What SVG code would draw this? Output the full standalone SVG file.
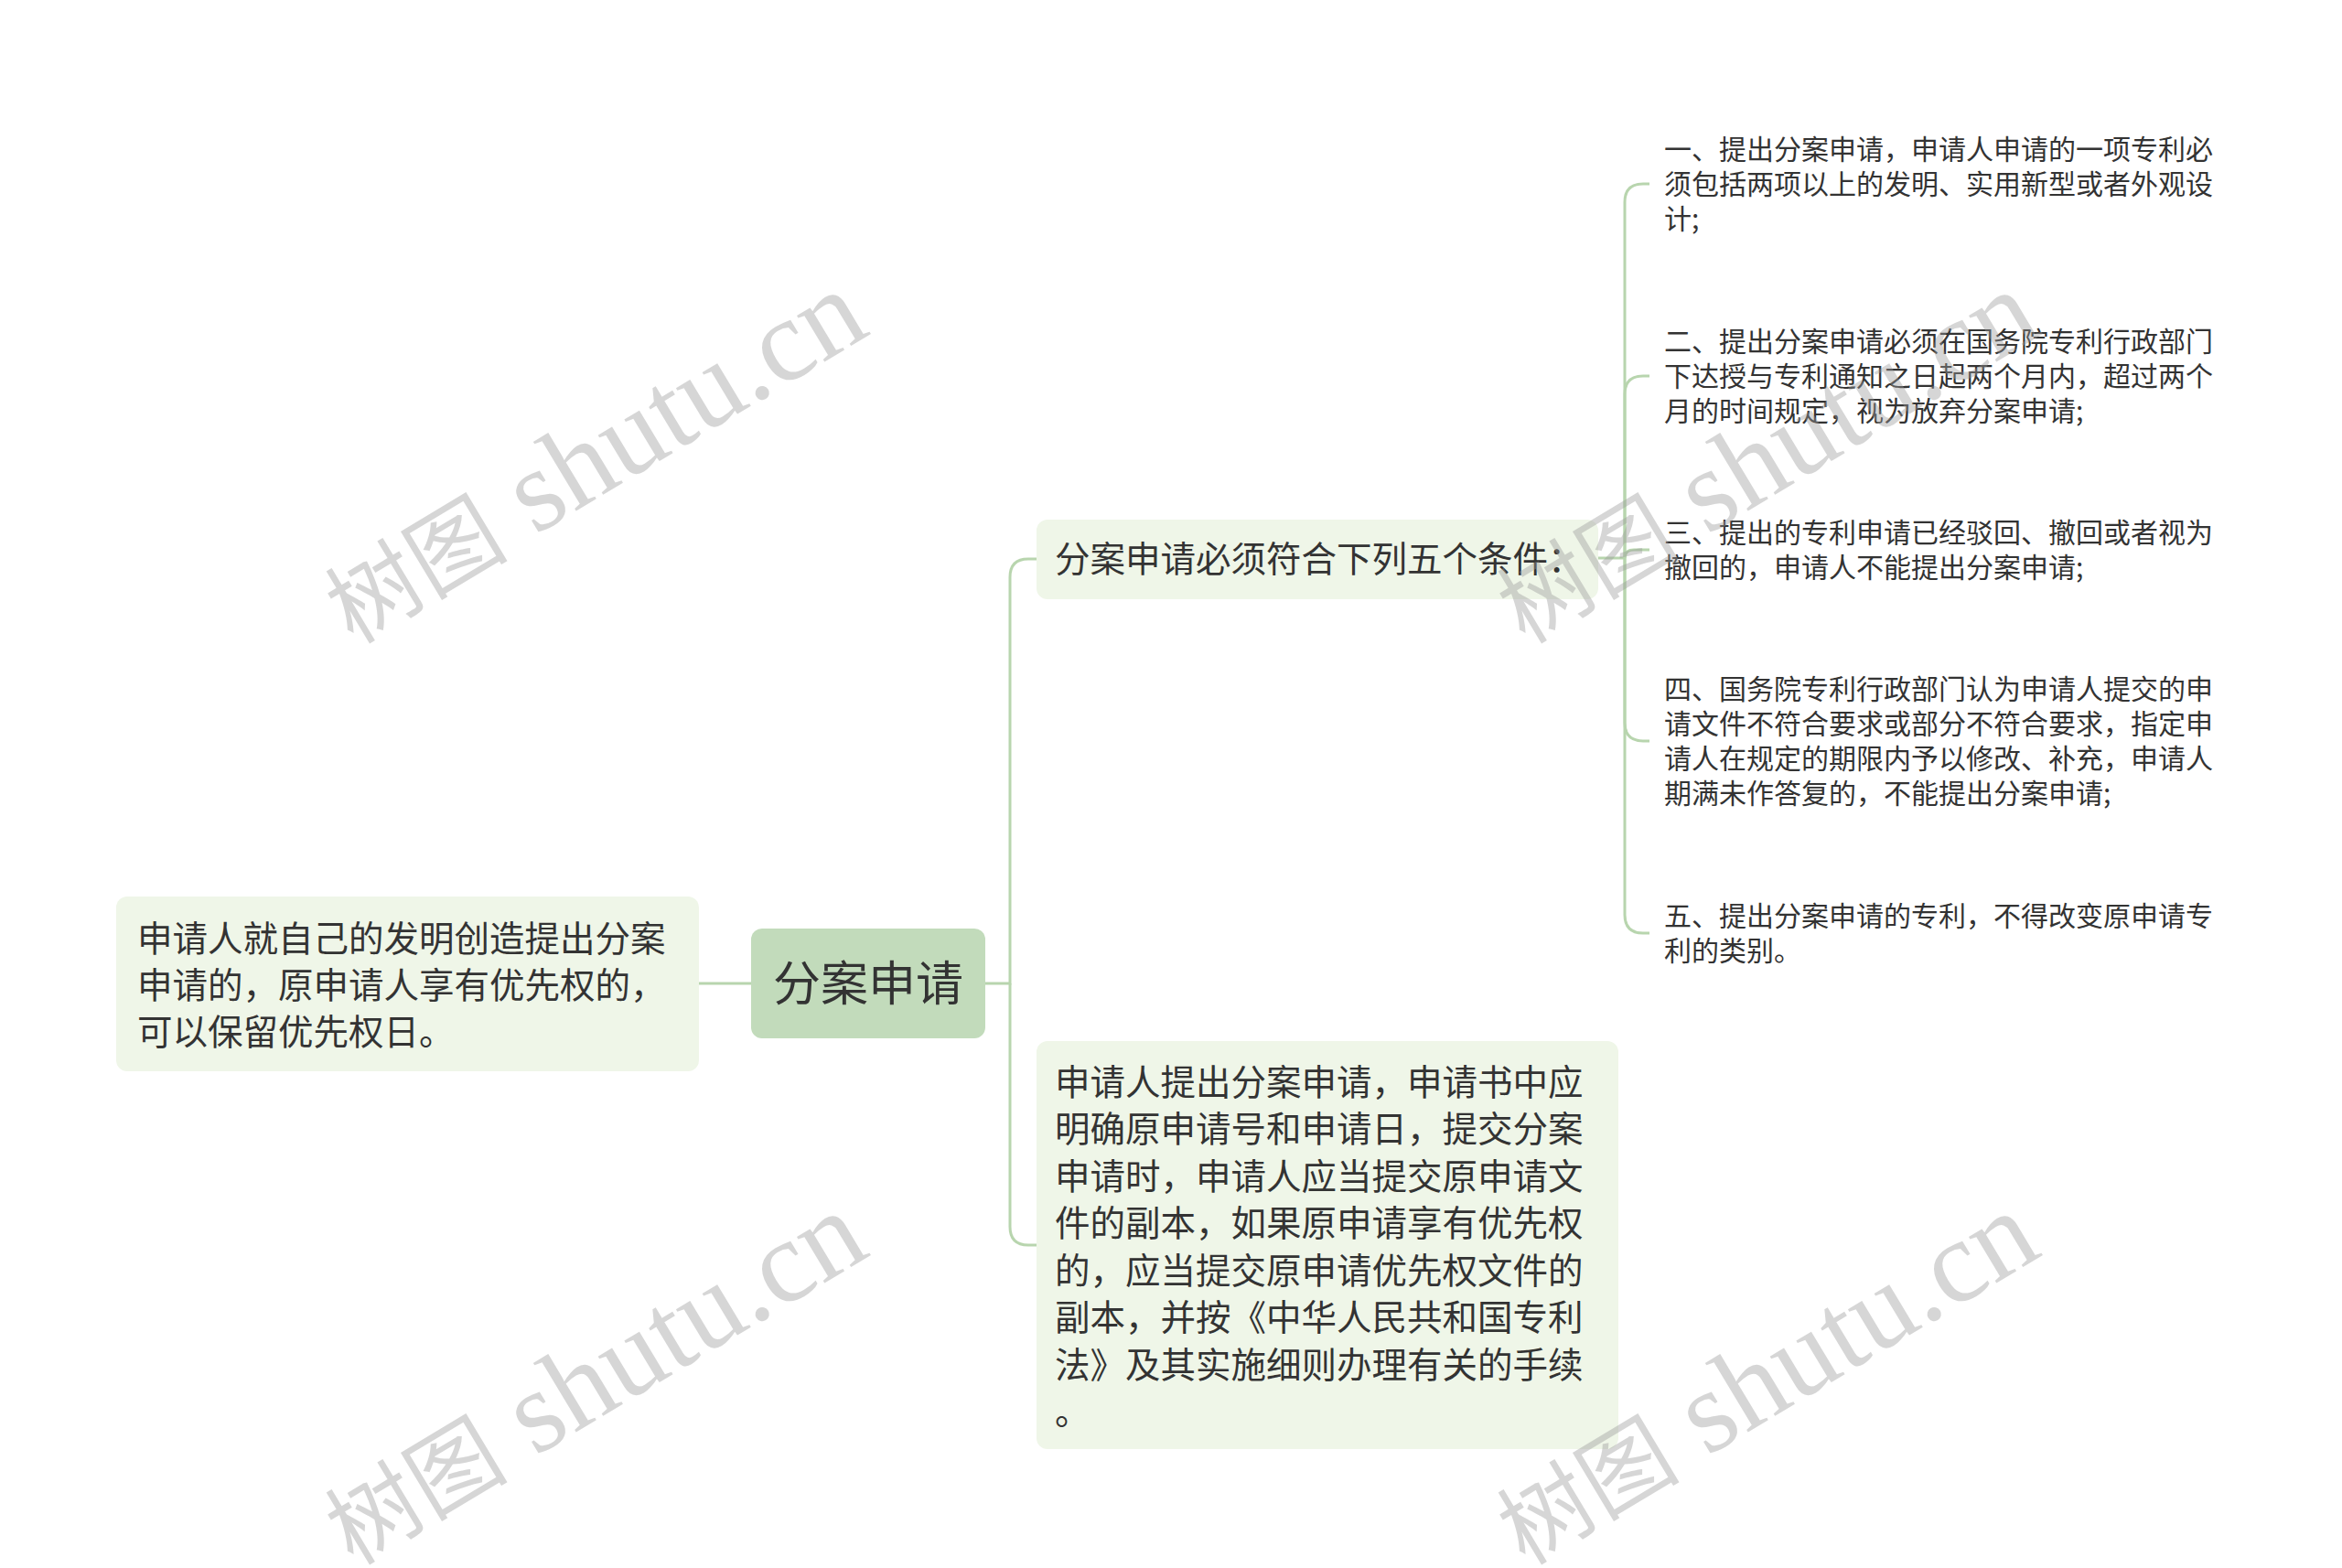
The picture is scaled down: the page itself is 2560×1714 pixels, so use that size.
<svg xmlns="http://www.w3.org/2000/svg" width="2560" height="1714" viewBox="0 0 2560 1714">
<style>
.bg{fill:#ffffff}
.node{fill:#eff6e8}
.root{fill:#c2dbbb}
.t{font-family:"Noto Sans CJK SC","Noto Sans",sans-serif;fill:#333333}
.big{font-size:38.5px}
.leaf{font-size:30px}
.rt{font-size:52px}
.conn{fill:none;stroke:#b8d5ae;stroke-width:3}
.wm{font-family:"Liberation Serif","Noto Sans CJK SC",serif;font-size:128px;fill:#9a9a9a;opacity:0.4}
.wmc{font-size:100px}
</style>
<rect class="bg" x="0" y="0" width="2560" height="1714"/>
<g id="connectors">
<path class="conn" d="M764,1075 H821"/>
<path class="conn" d="M1077,1075 H1104 V631 Q1104,611 1124,611 H1133"/>
<path class="conn" d="M1104,1075 V1341 Q1104,1361 1124,1361 H1133"/>
<path class="conn" d="M1747,610 H1776"/>
<path class="conn" d="M1776,610 V221 Q1776,201 1796,201 H1803"/>
<path class="conn" d="M1776,610 V431 Q1776,411 1796,411 H1803"/>
<path class="conn" d="M1776,610 Q1776,601 1786,601 H1803"/>
<path class="conn" d="M1776,610 V790 Q1776,810 1796,810 H1803"/>
<path class="conn" d="M1776,610 V1000 Q1776,1020 1796,1020 H1803"/>
</g>
<g id="root">
<rect class="root" x="821" y="1015" width="256" height="120" rx="12"/>
<text class="t rt" x="949" y="1094" text-anchor="middle">分案申请</text>
</g>
<g id="left">
<rect class="node" x="127" y="980" width="637" height="191" rx="12"/>
<text class="t big" x="150" y="1040">申请人就自己的发明创造提出分案</text>
<text class="t big" x="150" y="1091">申请的，原申请人享有优先权的，</text>
<text class="t big" x="150" y="1142">可以保留优先权日。</text>
</g>
<g id="cond">
<rect class="node" x="1133" y="568" width="614" height="87" rx="12"/>
<text class="t big" x="1153" y="625">分案申请必须符合下列五个条件：</text>
</g>
<g id="proc">
<rect class="node" x="1133" y="1138" width="636" height="446" rx="12"/>
<text class="t big" x="1153" y="1197">申请人提出分案申请，申请书中应</text>
<text class="t big" x="1153" y="1248">明确原申请号和申请日，提交分案</text>
<text class="t big" x="1153" y="1300">申请时，申请人应当提交原申请文</text>
<text class="t big" x="1153" y="1351">件的副本，如果原申请享有优先权</text>
<text class="t big" x="1153" y="1403">的，应当提交原申请优先权文件的</text>
<text class="t big" x="1153" y="1454">副本，并按《中华人民共和国专利</text>
<text class="t big" x="1153" y="1506">法》及其实施细则办理有关的手续</text>
<text class="t big" x="1153" y="1557">。</text>
</g>
<g id="c1">
<text class="t leaf" x="1819" y="174">一、提出分案申请，申请人申请的一项专利必</text>
<text class="t leaf" x="1819" y="212">须包括两项以上的发明、实用新型或者外观设</text>
<text class="t leaf" x="1819" y="250">计;</text>
</g>
<g id="c2">
<text class="t leaf" x="1819" y="384">二、提出分案申请必须在国务院专利行政部门</text>
<text class="t leaf" x="1819" y="422">下达授与专利通知之日起两个月内，超过两个</text>
<text class="t leaf" x="1819" y="460">月的时间规定，视为放弃分案申请;</text>
</g>
<g id="c3">
<text class="t leaf" x="1819" y="593">三、提出的专利申请已经驳回、撤回或者视为</text>
<text class="t leaf" x="1819" y="631">撤回的，申请人不能提出分案申请;</text>
</g>
<g id="c4">
<text class="t leaf" x="1819" y="764">四、国务院专利行政部门认为申请人提交的申</text>
<text class="t leaf" x="1819" y="802">请文件不符合要求或部分不符合要求，指定申</text>
<text class="t leaf" x="1819" y="840">请人在规定的期限内予以修改、补充，申请人</text>
<text class="t leaf" x="1819" y="878">期满未作答复的，不能提出分案申请;</text>
</g>
<g id="c5">
<text class="t leaf" x="1819" y="1012">五、提出分案申请的专利，不得改变原申请专</text>
<text class="t leaf" x="1819" y="1050">利的类别。</text>
</g>
<g id="watermarks">
<text class="wm" transform="translate(386,705) rotate(-31)"><tspan class="wmc">树图</tspan> shutu.cn</text>
<text class="wm" transform="translate(1667,705) rotate(-31)"><tspan class="wmc">树图</tspan> shutu.cn</text>
<text class="wm" transform="translate(386,1712) rotate(-31)"><tspan class="wmc">树图</tspan> shutu.cn</text>
<text class="wm" transform="translate(1667,1712) rotate(-31)"><tspan class="wmc">树图</tspan> shutu.cn</text>
</g>
</svg>
